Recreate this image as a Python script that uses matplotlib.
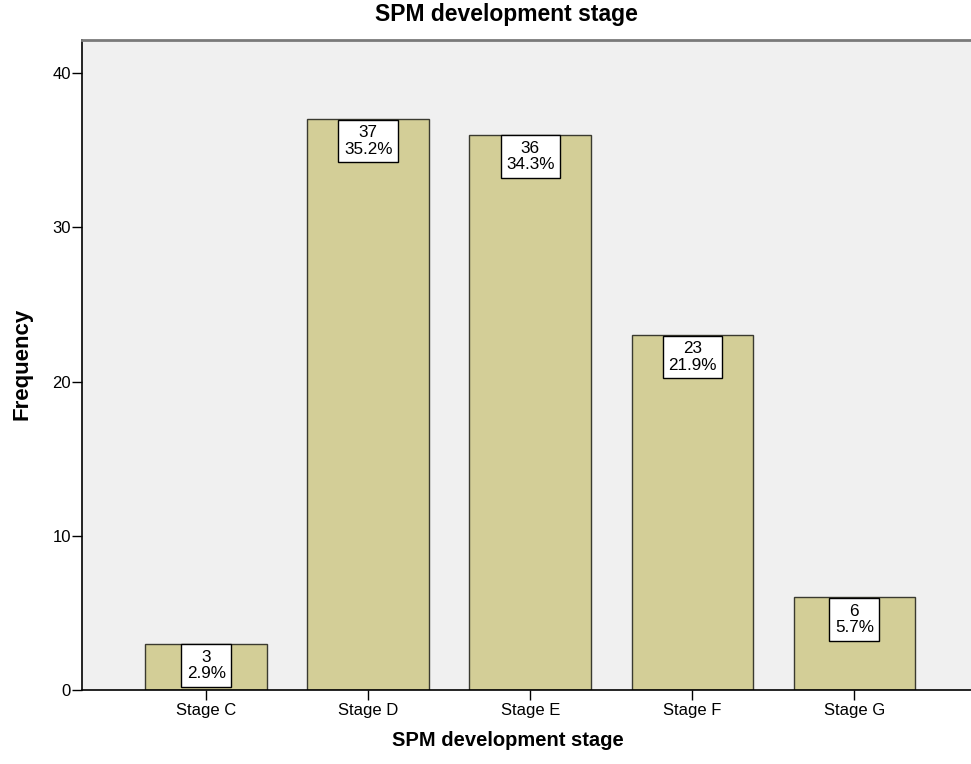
import matplotlib
matplotlib.use("Agg")
import matplotlib.pyplot as plt

stages = ["Stage C", "Stage D", "Stage E", "Stage F", "Stage G"]
counts = [3, 37, 36, 23, 6]
percents = [2.9, 35.2, 34.3, 21.9, 5.7]
yticks = [0, 10, 20, 30, 40]

plt.rcParams["font.family"] = ["Liberation Sans", "DejaVu Sans"]

fig = plt.figure(figsize=(9.71, 7.64), dpi=100)
ax = fig.add_axes([82 / 971, 74 / 764, 1 - 82 / 971, (690 - 40) / 764])
ax.set_facecolor("#F0F0F0")

x = range(len(stages))
ax.bar(x, counts, width=0.75, color="#D3CE97", edgecolor="#3A3A30", linewidth=1.0, zorder=2)

pad = 0.32
fs = 12.3
for xi, c, p in zip(x, counts, percents):
    ax.annotate(f"{c}\n{p:.1f}%", xy=(xi, c), xytext=(0, -pad * fs - 0.5),
                textcoords="offset points", ha="center", va="top",
                fontsize=fs, linespacing=1.12, zorder=3,
                bbox=dict(boxstyle=f"square,pad={pad}", fc="white", ec="black", lw=1.0))

ax.set_xlim(-0.766, 4.72)
ax.set_ylim(0, 42.14)
ax.set_xticks(list(x))
ax.set_xticklabels(stages, fontsize=12)
ax.set_yticks(yticks)
ax.tick_params(axis="y", labelsize=12, length=7, width=1, direction="out", pad=1)
ax.tick_params(axis="x", length=7, width=1, direction="out", pad=2)

ax.spines["right"].set_visible(False)
ax.spines["top"].set_color("#7A7A7A")
ax.spines["top"].set_linewidth(2.0)
ax.spines["left"].set_linewidth(1.2)
ax.spines["bottom"].set_linewidth(1.2)

fig.text(22 / 971, 1 - 364 / 764, "Frequency", rotation=90, ha="center", va="center",
         fontsize=16, fontweight="bold")
fig.text(508 / 971, 1 - 741 / 764, "SPM development stage", ha="center", va="center",
         fontsize=14.5, fontweight="bold")
fig.text(506 / 971, 1 - 15 / 764, "SPM development stage", ha="center", va="center",
         fontsize=16.5, fontweight="bold")

fig.savefig("out.png", dpi=100)
